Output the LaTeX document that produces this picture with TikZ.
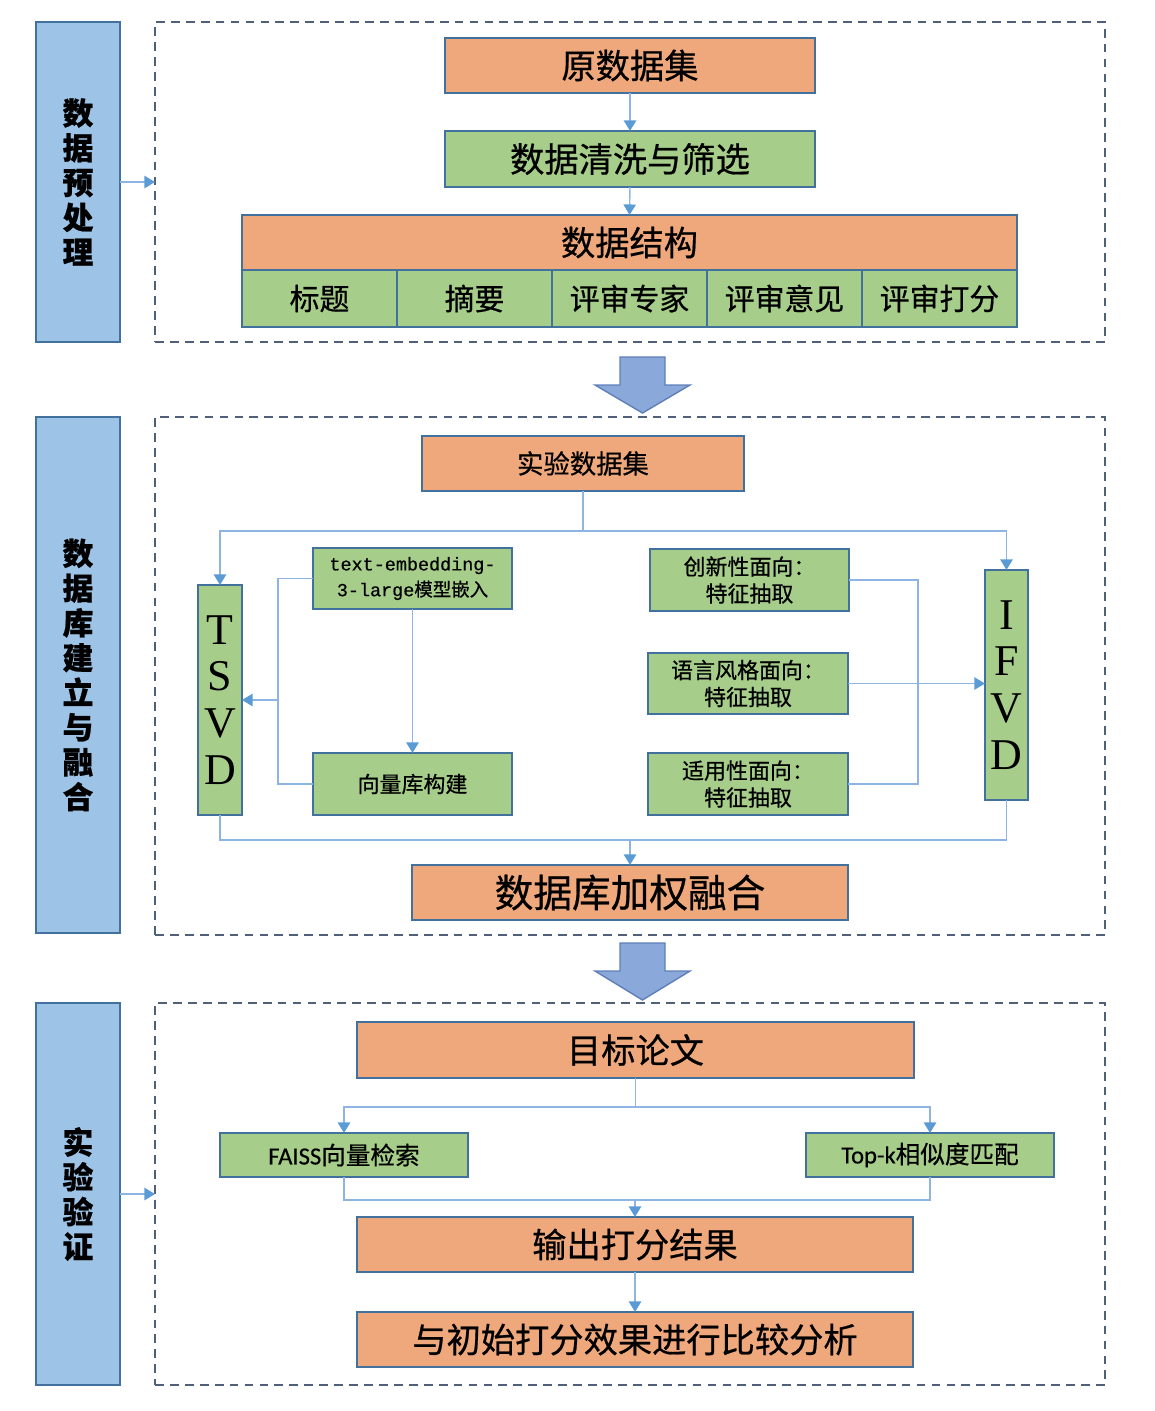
\documentclass[tikz,border=0pt]{standalone}
\usepackage{fontspec}
\setmainfont{Noto Sans CJK SC}[FakeBold=0.6]
\newfontfamily\serifL{Liberation Serif}
\newfontfamily\monoL{Liberation Mono}[FakeBold=0.5]
\newfontfamily\carl{Carlito}[FakeBold=0.5]
\usetikzlibrary{arrows.meta,calc}
\definecolor{orgc}{HTML}{EEA87C}
\definecolor{grnc}{HTML}{A6CD89}
\definecolor{sidec}{HTML}{9DC3E6}
\definecolor{bordc}{HTML}{41719C}
\definecolor{dashc}{HTML}{4F6178}
\definecolor{linec}{HTML}{8DB4E2}
\definecolor{arrc}{HTML}{5B9BD5}
\definecolor{bigf}{HTML}{8AA8DA}
\definecolor{bigd}{HTML}{5E7FB8}
\newcommand\bx[7]{\node[#6, minimum width={(#4-#2)*0.02cm}, minimum height={(#5-#3)*0.02cm}] (#1) at ({(#2+#4)/2},{(#3+#5)/2}) {#7};}
\tikzset{
  basebox/.style={line width=1pt, inner sep=0pt, outer sep=0pt, align=center, text=black},
  orangebox/.style={basebox, draw=bordc, fill=orgc},
  greenbox/.style={basebox, draw=bordc, fill=grnc},
  sidebox/.style={basebox, draw=bordc, fill=sidec},
  dashbox/.style={basebox, draw=dashc, dash pattern=on 5pt off 3.5pt, line width=1.1pt},
  conn/.style={draw=linec, line width=0.8pt},
  arr/.style={conn, -{Triangle[width=7pt,length=6pt,color=arrc]}},
  bigarrow/.style={fill=bigf, draw=bigd, line width=0.8pt, line join=miter},
  lab/.style={font=\bfseries\fontsize{17.5}{19.8}\selectfont},
  fsA/.style={font=\fontsize{19.5}{22}\selectfont},
  fsB/.style={font=\fontsize{17}{20}\selectfont},
  fsC/.style={font=\fontsize{15}{18}\selectfont},
  fsD/.style={font=\fontsize{10.5}{14.7}\selectfont},
  fsE/.style={font=\fontsize{12.5}{15.3}\selectfont},
  fsF/.style={font=\fontsize{22}{25}\selectfont},
  fsG/.style={font=\fontsize{14}{17}\selectfont},
  fsT/.style={font=\serifL\fontsize{25}{26.6}\selectfont},
}
\begin{document}
\begin{tikzpicture}[x=0.02cm,y=-0.02cm]
\useasboundingbox (0,0) rectangle (1154,1411);
% ---------- section 1 ----------
\bx{d1}{155}{22}{1105}{342}{dashbox}{}
\bx{lab1}{36}{22}{120}{342}{sidebox,lab}{数\\据\\预\\处\\理}
\bx{raw}{445}{38}{815}{93}{orangebox,fsA}{原数据集}
\bx{clean}{445}{131}{815}{187}{greenbox,fsA}{数据清洗与筛选}
\bx{struct}{242}{215}{1017}{270}{orangebox,fsA}{数据结构}
\bx{c1}{242}{270}{397}{327}{greenbox,fsB}{标题}
\bx{c2}{397}{270}{552}{327}{greenbox,fsB}{摘要}
\bx{c3}{552}{270}{707}{327}{greenbox,fsB}{评审专家}
\bx{c4}{707}{270}{862}{327}{greenbox,fsB}{评审意见}
\bx{c5}{862}{270}{1017}{327}{greenbox,fsB}{评审打分}
\draw[arr] (raw.south) -- (clean.north);
\draw[arr] (clean.south) -- (struct.north);
\draw[arr] (lab1.east) -- (d1.west);
% big arrow 1
\draw[bigarrow] (620,357) -- (665,357) -- (665,385) -- (690,385) -- (642.5,413) -- (595,385) -- (620,385) -- cycle;
% ---------- section 2 ----------
\bx{d2}{155}{417}{1105}{935}{dashbox}{}
\bx{lab2}{36}{417}{120}{933}{sidebox,lab}{数\\据\\库\\建\\立\\与\\融\\合}
\bx{exp}{422}{436}{744}{491}{orangebox,fsC}{实验数据集}
\bx{tsvd}{198}{585}{242}{815}{greenbox,fsT}{T\\S\\V\\D}
\bx{emb}{313}{548}{512}{609}{greenbox,fsD}{{\monoL text-embedding-}\\{\monoL 3-large}模型嵌入}
\bx{vec}{313}{753}{512}{815}{greenbox,fsE}{向量库构建}
\bx{inn}{650}{549}{849}{611}{greenbox,fsE}{创新性面向：\\特征抽取}
\bx{lang}{648}{653}{848}{714}{greenbox,fsE}{语言风格面向：\\特征抽取}
\bx{app}{648}{753}{848}{815}{greenbox,fsE}{适用性面向：\\特征抽取}
\bx{ifvd}{985}{570}{1028}{800}{greenbox,fsT}{I\\F\\V\\D}
\bx{fuse}{412}{865}{848}{920}{orangebox,fsF}{数据库加权融合}
\coordinate (j0) at (583,531);
\draw[conn] (exp.south) -- (j0);
\draw[arr] (j0) -| (tsvd.north);
\draw[arr] (j0) -| (ifvd.north);
\draw[arr] (emb.south) -- (vec.north);
\coordinate (j1) at (278,700);
\draw[conn] (emb.west) -| (j1) |- (vec.west);
\draw[arr] (j1) -- (tsvd.east |- j1);
\coordinate (j2) at (918,685);
\draw[conn] (inn.east) -| (j2) |- (app.east);
\draw[arr] (lang.east) -- (ifvd.west |- lang.east);
\coordinate (j3) at (630,840);
\draw[conn] (tsvd.south) |- (j3) -| (ifvd.south);
\draw[arr] (j3) -- (fuse.north);
% big arrow 2
\draw[bigarrow] (620,943) -- (665,943) -- (665,971) -- (690,971) -- (642.5,1000) -- (595,971) -- (620,971) -- cycle;
% ---------- section 3 ----------
\bx{d3}{155}{1003}{1105}{1385}{dashbox}{}
\bx{lab3}{36}{1003}{120}{1385}{sidebox,lab}{实\\验\\验\\证}
\bx{goal}{357}{1022}{914}{1078}{orangebox,fsA}{目标论文}
\bx{faiss}{220}{1133}{468}{1177}{greenbox,fsG}{{\carl FAISS}向量检索}
\bx{topk}{806}{1133}{1054}{1177}{greenbox,fsG}{{\carl Top-k}相似度匹配}
\bx{out}{357}{1217}{913}{1272}{orangebox,fsA}{输出打分结果}
\bx{cmp}{357}{1312}{913}{1367}{orangebox,fsA}{与初始打分效果进行比较分析}
\coordinate (k0) at (635.5,1107);
\draw[conn] (goal.south) -- (k0);
\draw[arr] (k0) -| (faiss.north);
\draw[arr] (k0) -| (topk.north);
\coordinate (k1) at (635,1200);
\draw[conn] (faiss.south) |- (k1) -| (topk.south);
\draw[arr] (k1) -- (out.north);
\draw[arr] (out.south) -- (cmp.north);
\draw[arr] (lab3.east) -- (d3.west);
\end{tikzpicture}
\end{document}
